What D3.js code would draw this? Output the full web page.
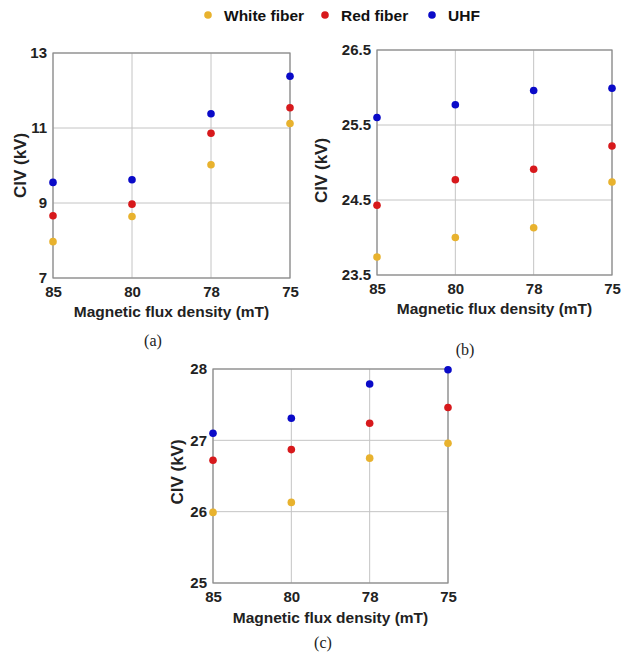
<!DOCTYPE html>
<html>
<head>
<meta charset="utf-8">
<script src="https://cdn.jsdelivr.net/npm/d3@7"></script>
<style>
  body { margin: 0; background: #fff; }
  svg text { font-family: "Liberation Sans", Arial, sans-serif; }
  .tick text { font-weight: bold; font-size: 15px; fill: #222; }
  .aTitle { font-weight: bold; font-size: 15.5px; fill: #222; }
  .yTitle { font-weight: bold; font-size: 17px; fill: #222; }
  .legText { font-weight: bold; font-size: 15.5px; fill: #111; }
  .cap { font-family: "Liberation Serif", "Times New Roman", serif; font-size: 16px; fill: #222; }
</style>
</head>
<body>
<div id="chart"></div>
<script>
let svgWidth = 624;
let svgHeight = 657;

// x categories (magnetic flux density, mT)
let categories = ["85", "80", "78", "75"];
let seriesNames = ["White fiber", "Red fiber", "UHF"];
let seriesColors = ["#e8b22e", "#d7191c", "#0a0ac8"];

// panel (a)
let whiteA = [7.97, 8.64, 10.02, 11.12];
let redA = [8.66, 8.97, 10.86, 11.54];
let uhfA = [9.55, 9.62, 11.38, 12.38];
let yTicksA = [7, 9, 11, 13];

// panel (b)
let whiteB = [23.74, 24.0, 24.13, 24.74];
let redB = [24.43, 24.77, 24.91, 25.22];
let uhfB = [25.6, 25.77, 25.96, 25.99];
let yTicksB = [23.5, 24.5, 25.5, 26.5];

// panel (c)
let whiteC = [25.99, 26.13, 26.75, 26.96];
let redC = [26.72, 26.87, 27.24, 27.46];
let uhfC = [27.1, 27.31, 27.79, 27.99];
let yTicksC = [25, 26, 27, 28];

let svg = d3.select("#chart")
  .append("svg")
  .attr("width", svgWidth)
  .attr("height", svgHeight);

function drawPanel(p) {
  let g = svg.append("g")
    .attr("transform", `translate(${p.left}, ${p.top})`);

  let x = d3.scalePoint()
    .domain(categories)
    .range([0, p.width])
    .padding(0);

  let y = d3.scaleLinear()
    .domain(d3.extent(p.yTicks))
    .range([p.height, 0]);

  // grid
  g.append("g")
    .selectAll("line")
    .data(categories)
    .enter()
    .append("line")
    .attr("x1", d => x(d)).attr("x2", d => x(d))
    .attr("y1", 0).attr("y2", p.height)
    .attr("stroke", "#c4c4c4").attr("stroke-width", 1);

  g.append("g")
    .selectAll("line")
    .data(p.yTicks)
    .enter()
    .append("line")
    .attr("x1", 0).attr("x2", p.width)
    .attr("y1", d => y(d)).attr("y2", d => y(d))
    .attr("stroke", "#c4c4c4").attr("stroke-width", 1);

  // axes
  let xAxis = d3.axisBottom(x).tickSize(0).tickPadding(8);
  let yAxis = d3.axisLeft(y).tickValues(p.yTicks).tickSize(0).tickPadding(6)
    .tickFormat(d3.format(p.fmt));

  g.append("g")
    .attr("transform", `translate(0, ${p.height})`)
    .call(xAxis)
    .call(a => a.select(".domain").remove());

  g.append("g")
    .call(yAxis)
    .call(a => a.select(".domain").remove());

  // box
  g.append("rect")
    .attr("width", p.width)
    .attr("height", p.height)
    .attr("fill", "none")
    .attr("stroke", "#8a8a8a")
    .attr("stroke-width", 1.2);

  // points
  [p.white, p.red, p.uhf].forEach(function(vals, i) {
    g.selectAll(null)
      .data(vals)
      .enter()
      .append("circle")
      .attr("cx", (d, j) => x(categories[j]))
      .attr("cy", d => y(d))
      .attr("r", 3.8)
      .attr("fill", seriesColors[i]);
  });

  // axis labels
  g.append("text")
    .attr("class", "yTitle")
    .attr("transform", `translate(${p.yTitleX}, ${p.height / 2 + p.yTitleDy}) rotate(-90)`)
    .attr("text-anchor", "middle")
    .text("CIV (kV)");

  g.append("text")
    .attr("class", "aTitle")
    .attr("x", p.width / 2)
    .attr("y", p.height + p.xTitleDy)
    .attr("text-anchor", "middle")
    .text("Magnetic flux density (mT)");

  g.append("text")
    .attr("class", "cap")
    .attr("x", p.capX)
    .attr("y", p.height + p.capDy)
    .attr("text-anchor", "middle")
    .text(p.caption);
}

drawPanel({ left: 53, top: 53, width: 237, height: 225, yTicks: yTicksA, fmt: "d",
  white: whiteA, red: redA, uhf: uhfA, yTitleX: -27, yTitleDy: 0, xTitleDy: 39, capX: 100, capDy: 68, caption: "(a)" });

drawPanel({ left: 377, top: 50, width: 235, height: 225, yTicks: yTicksB, fmt: ".1f",
  white: whiteB, red: redB, uhf: uhfB, yTitleX: -50, yTitleDy: 8, xTitleDy: 39, capX: 88, capDy: 80, caption: "(b)" });

drawPanel({ left: 213, top: 369, width: 235, height: 214, yTicks: yTicksC, fmt: "d",
  white: whiteC, red: redC, uhf: uhfC, yTitleX: -30, yTitleDy: -4, xTitleDy: 40, capX: 110, capDy: 65, caption: "(c)" });

// legend
let legendX = [208, 325, 432];
let legend = svg.append("g");
seriesNames.forEach(function(name, i) {
  legend.append("circle")
    .attr("cx", legendX[i]).attr("cy", 15).attr("r", 3.8)
    .attr("fill", seriesColors[i]);
  legend.append("text")
    .attr("class", "legText")
    .attr("x", legendX[i] + 16).attr("y", 20.5)
    .text(name);
});
</script>
</body>
</html>
